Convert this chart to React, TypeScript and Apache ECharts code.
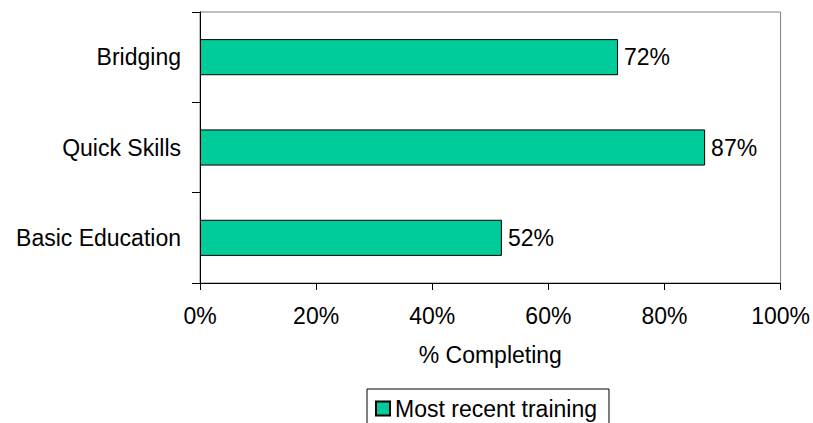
import React, { useEffect, useRef } from "react";
import * as echarts from "echarts";

const categories = ["Basic Education", "Quick Skills", "Bridging"];
const values = [52, 87, 72];
const xTicks = [0, 20, 40, 60, 80, 100];
const seriesName = "Most recent training";
const axisName = "% Completing";

const FONT = "'Liberation Sans', Arial, sans-serif";
const FS = 23;

export default function App() {
  const ref = useRef<HTMLDivElement>(null);
  useEffect(() => {
    if (!ref.current) return;
    const chart = echarts.init(ref.current, undefined, { renderer: "svg" });
    chart.setOption({
      animation: false,
      backgroundColor: "#ffffff",
      textStyle: { fontFamily: FONT, color: "#000" },
      grid: {
        left: 200,
        right: 32,
        top: 12,
        bottom: 140,
        show: true,
        borderColor: "#808080",
        borderWidth: 1,
        containLabel: false,
      },
      xAxis: {
        type: "value",
        min: xTicks[0],
        max: xTicks[xTicks.length - 1],
        interval: 20,
        name: axisName,
        nameLocation: "middle",
        nameGap: 60,
        nameTextStyle: { fontSize: FS, color: "#000", fontFamily: FONT },
        axisLine: { show: true, lineStyle: { color: "#000", width: 1 } },
        axisTick: { show: true, length: 7, lineStyle: { color: "#000" } },
        axisLabel: {
          formatter: "{value}%",
          fontSize: FS,
          color: "#000",
          margin: 21,
          fontFamily: FONT,
        },
        splitLine: { show: false },
      },
      yAxis: {
        type: "category",
        data: categories,
        axisLine: { show: true, lineStyle: { color: "#000", width: 1 } },
        axisTick: { show: true, length: 8, lineStyle: { color: "#000" } },
        axisLabel: { fontSize: FS, color: "#000", margin: 19, fontFamily: FONT },
      },
      legend: {
        data: [{ name: seriesName, icon: "rect" }],
        left: 367,
        top: 389,
        orient: "horizontal",
        itemWidth: 14,
        itemHeight: 14,
        itemGap: 5,
        padding: [8, 12, 20, 8],
        borderColor: "#000",
        borderWidth: 1,
        backgroundColor: "#fff",
        textStyle: { fontSize: FS, color: "#000", fontFamily: FONT },
      },
      series: [
        {
          name: seriesName,
          type: "bar",
          data: values,
          barCategoryGap: "60%",
          itemStyle: { color: "#00CC99", borderColor: "#000", borderWidth: 1 },
          label: {
            show: true,
            position: "right",
            distance: 6,
            formatter: "{c}%",
            fontSize: FS,
            color: "#000",
            fontFamily: FONT,
          },
        },
      ],
    });
    return () => chart.dispose();
  }, []);
  return (
    <div
      ref={ref}
      style={{ position: "fixed", left: 0, top: 0, width: 813, height: 423 }}
    />
  );
}
